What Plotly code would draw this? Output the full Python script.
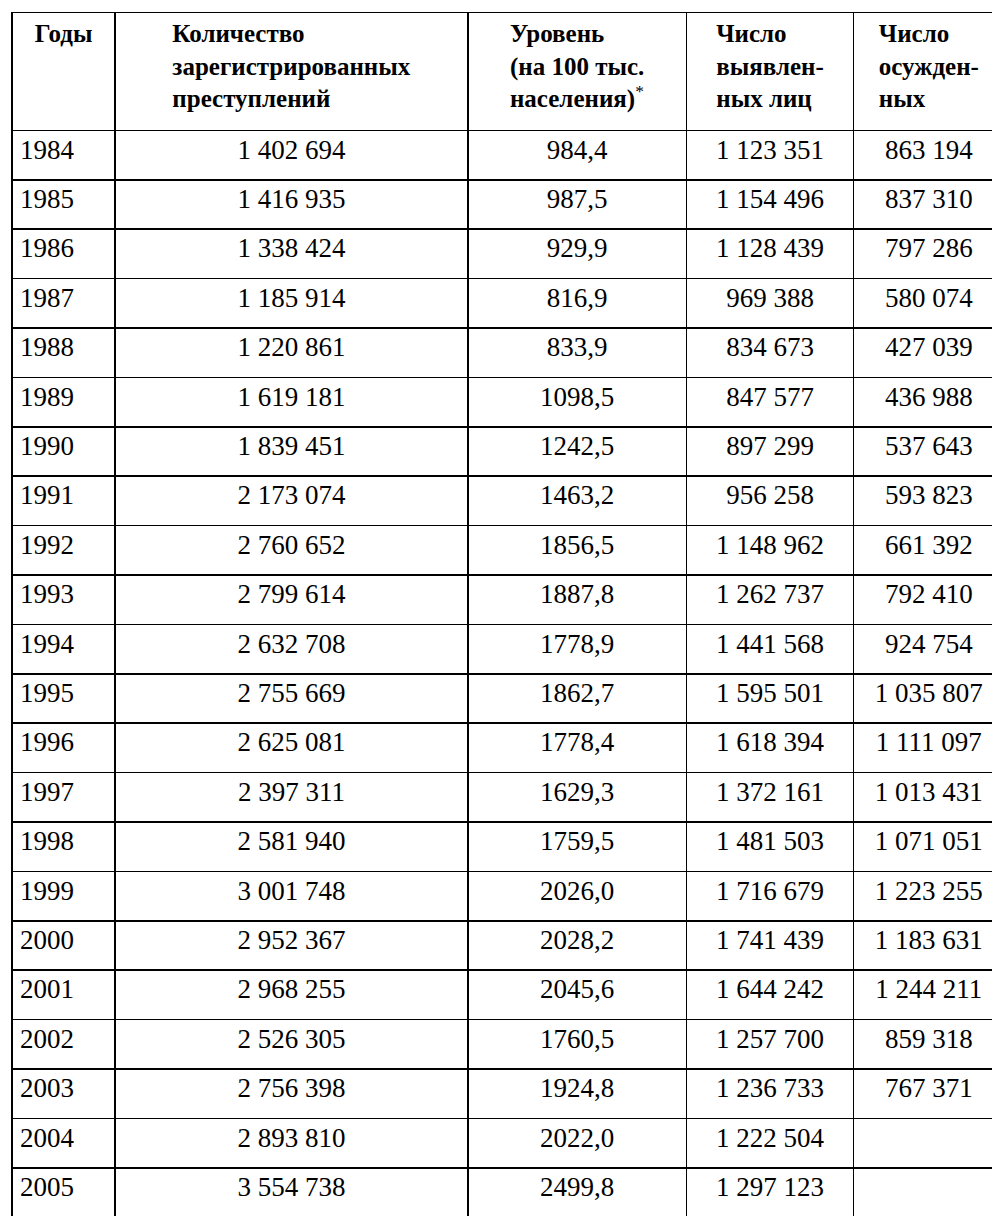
import plotly.graph_objects as go

years = [str(y) for y in range(1984, 2006)]
registered = ["1 402 694", "1 416 935", "1 338 424", "1 185 914", "1 220 861", "1 619 181",
              "1 839 451", "2 173 074", "2 760 652", "2 799 614", "2 632 708", "2 755 669",
              "2 625 081", "2 397 311", "2 581 940", "3 001 748", "2 952 367", "2 968 255",
              "2 526 305", "2 756 398", "2 893 810", "3 554 738"]
level = ["984,4", "987,5", "929,9", "816,9", "833,9", "1098,5", "1242,5", "1463,2", "1856,5",
         "1887,8", "1778,9", "1862,7", "1778,4", "1629,3", "1759,5", "2026,0", "2028,2",
         "2045,6", "1760,5", "1924,8", "2022,0", "2499,8"]
identified = ["1 123 351", "1 154 496", "1 128 439", "969 388", "834 673", "847 577", "897 299",
              "956 258", "1 148 962", "1 262 737", "1 441 568", "1 595 501", "1 618 394",
              "1 372 161", "1 481 503", "1 716 679", "1 741 439", "1 644 242", "1 257 700",
              "1 236 733", "1 222 504", "1 297 123"]
convicted = ["863 194", "837 310", "797 286", "580 074", "427 039", "436 988", "537 643",
             "593 823", "661 392", "792 410", "924 754", "1 035 807", "1 111 097", "1 013 431",
             "1 071 051", "1 223 255", "1 183 631", "1 244 211", "859 318", "767 371", "", ""]

headers = ["<br><b>Годы</b>",
           "<b>Количество</b><br><b>зарегистрированных</b><br><b>преступлений</b>",
           "<b>Уровень</b><br><b>(на 100 тыс.</b><br><b>населения)</b><sup>*</sup>",
           "<b>Число</b><br><b>выявлен-</b><br><b>ных лиц</b>",
           "<b>Число</b><br><b>осужден-</b><br><b>ных</b>"]

serif = "Times New Roman, Liberation Serif, DejaVu Serif, serif"

fig = go.Figure(go.Table(
    columnwidth=[103, 352, 218, 167, 150],
    domain=dict(x=[0.004, 0.996], y=[0, 0.998]),
    header=dict(values=headers, height=118, align="center",
                line=dict(color="black", width=1.5), fill_color="white",
                font=dict(family=serif, size=25, color="black")),
    cells=dict(values=[years, registered, level, identified, convicted], height=49.4,
               align=["left", "center", "center", "center", "center"],
               line=dict(color="black", width=1.5), fill_color="white",
               font=dict(family=serif, size=27, color="black")),
))
fig.update_layout(width=1000, height=1216, margin=dict(l=0, r=0, t=2, b=0),
                  paper_bgcolor="white")
fig.write_html("out.html")
